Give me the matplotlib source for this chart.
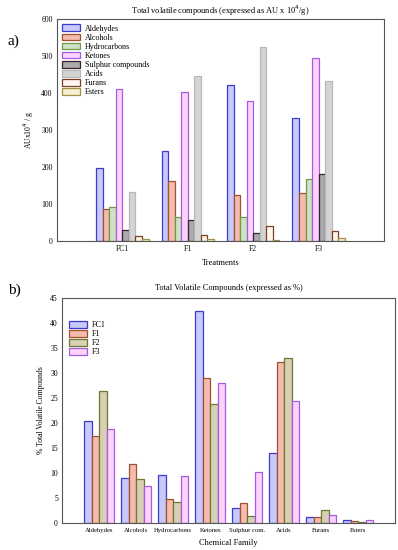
import matplotlib
matplotlib.use('Agg')
import matplotlib.pyplot as plt
import numpy as np

plt.rcParams['font.family'] = ['Liberation Serif', 'DejaVu Serif']

# panel a: AU x 10^4 / g per treatment
treatments = ['FC1', 'F1', 'F2', 'F3']
families_a = ['Aldehydes', 'Alcohols', 'Hydrocarbons', 'Ketones', 'Sulphur compounds',
              'Acids', 'Furans', 'Esters']
aldehydes = [196, 243, 422, 333]
alcohols = [86, 161, 124, 131]
hydrocarbons = [92, 65, 66, 167]
ketones = [410, 403, 380, 496]
sulphur = [30, 56, 21, 181]
acids = [133, 447, 525, 433]
furans = [12, 17, 41, 26]
esters = [5, 5, 2, 9]
series_a = [aldehydes, alcohols, hydrocarbons, ketones, sulphur, acids, furans, esters]

face_a = ['#c8c8fa', '#f4bcae', '#cfe3c4', '#fdd2fd', '#ababab', '#d4d4d4', '#fff4ee', '#f6f0d2']
edge_a = ['#3c3ccc', '#a0522d', '#6e9a4a', '#a45ce0', '#3a2030', '#b8b8b8', '#7a4020', '#a09040']

# panel b: % of total volatile compounds
families_b = ['Aldehydes', 'Alcohols', 'Hydrocarbons', 'Ketones', 'Sulphur com.',
              'Acids', 'Furans', 'Esters']
fc1 = [20.4, 8.9, 9.6, 42.4, 2.9, 13.9, 1.2, 0.5]
f1 = [17.4, 11.7, 4.7, 28.9, 4.0, 32.1, 1.2, 0.3]
f2 = [26.4, 8.8, 4.2, 23.7, 1.3, 32.9, 2.6, 0.2]
f3 = [18.7, 7.4, 9.4, 27.9, 10.2, 24.4, 1.5, 0.5]
series_b = [fc1, f1, f2, f3]
face_b = ['#c8c8fa', '#f4bcae', '#d8cfb4', '#fdd2fd']
edge_b = ['#3c3ccc', '#a0522d', '#6a7a30', '#a45ce0']

fig = plt.figure(figsize=(3.98, 5.5), dpi=100)

# ---- a) ----
ax1 = fig.add_axes([0.143, 0.562, 0.822, 0.403])
xa = np.arange(1, len(treatments) + 1)
w = 0.1
for i, vals in enumerate(series_a):
    ax1.bar(xa - 0.35 + i * w, vals, width=w, color=face_a[i], edgecolor=edge_a[i],
            linewidth=0.9, label=families_a[i])
ax1.set_xlim(0, 5)
ax1.set_ylim(0, 600)
ax1.set_xticks(xa)
ax1.set_xticklabels(treatments)
ax1.set_yticks(range(0, 601, 100))
ax1.tick_params(length=0, labelsize=5.5, pad=3)
ax1.set_title('Total volatile compounds (expressed as AU x 10$^4$/g)', fontsize=6, pad=4)
ax1.set_xlabel('Treatments', fontsize=6, labelpad=4)
ax1.set_ylabel('AUx10$^4$ / g', fontsize=5.5, labelpad=4)
ax1.legend(loc='upper left', fontsize=5.8, frameon=False, handlelength=2.2, handleheight=0.9,
           labelspacing=0.12, borderaxespad=0.25, handletextpad=0.6)
for s in ax1.spines.values():
    s.set_color('#555555')
    s.set_linewidth(0.8)
fig.text(0.02, 0.918, 'a)', fontsize=11)

# ---- b) ----
ax2 = fig.add_axes([0.156, 0.05, 0.837, 0.408])
xb = np.arange(1, len(families_b) + 1)
wb = 0.2
for i, vals in enumerate(series_b):
    ax2.bar(xb - 0.3 + i * wb, vals, width=wb, color=face_b[i], edgecolor=edge_b[i],
            linewidth=0.9, label=treatments[i])
ax2.set_xlim(0, 9)
ax2.set_ylim(0, 45)
ax2.set_xticks(xb)
ax2.set_xticklabels(families_b)
ax2.set_yticks(range(0, 46, 5))
ax2.tick_params(axis='x', length=0, labelsize=4.8, pad=4)
ax2.tick_params(axis='y', length=0, labelsize=5.5, pad=3)
ax2.set_title('Total Volatile Compounds (expressed as %)', fontsize=6, pad=6)
ax2.set_xlabel('Chemical Family', fontsize=6, labelpad=4)
ax2.set_ylabel('% Total Volatile Compounds', fontsize=5.5, labelpad=4)
ax2.legend(loc='upper left', bbox_to_anchor=(0.0, 0.93), fontsize=5.8, frameon=False,
           handlelength=2.2, handleheight=0.9, labelspacing=0.12, handletextpad=0.6)
for s in ax2.spines.values():
    s.set_color('#555555')
    s.set_linewidth(0.8)
fig.text(0.02, 0.465, 'b)', fontsize=11)

fig.savefig('out.png', dpi=100)
